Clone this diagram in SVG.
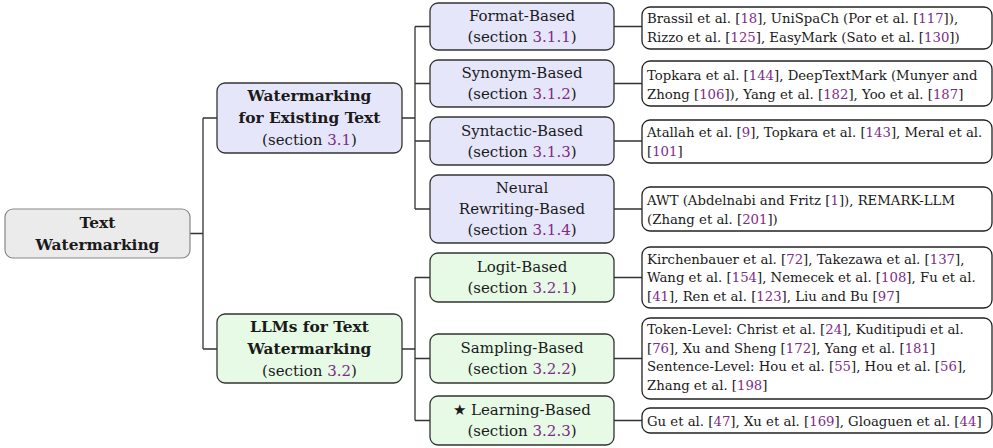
<svg xmlns="http://www.w3.org/2000/svg" width="993" height="448" viewBox="0 0 993 448">
<style>
text{font-family:'DejaVu Serif',serif;fill:#1a1a1a}
.n{font-size:15px;text-anchor:middle}
.b{font-weight:bold;font-size:15.4px}
.t{font-size:13.25px}
.c{fill:#7E2C86}
.root{fill:#EBEBEB;stroke:#888;stroke-width:1.2}
.blue{fill:#E6E6FA;stroke:#333;stroke-width:1.3}
.green{fill:#E6FAE6;stroke:#333;stroke-width:1.3}
.box{fill:#fff;stroke:#222;stroke-width:1.3}
.ln{fill:none;stroke:#333;stroke-width:1.3}
</style>
<g id="connectors">
<path class="ln" d="M190,233.5H203M203,118V349M203,118H217M203,349H217"/>
<path class="ln" d="M402,118H415M415,26.5V209M415,26.5H430M415,83.5H430M415,141H430M415,209H430"/>
<path class="ln" d="M402,349H415M415,277.5V420.5M415,277.5H430M415,358.5H430M415,420.5H430"/>
<path class="ln" d="M614,26.5H642M614,83.5H642M614,141H642M614,209H642M614,277.5H642M614,358.5H642M614,420.5H642"/>
</g>
<g id="root">
<rect class="root" x="5" y="209" width="185" height="49" rx="8"/>
<text class="n b" x="97.5" y="227.5">Text</text>
<text class="n b" x="97.5" y="249.5">Watermarking</text>
</g>
<g id="existing">
<rect class="blue" x="217" y="83" width="185" height="70" rx="8"/>
<text class="n b" x="309.5" y="101">Watermarking</text>
<text class="n b" x="309.5" y="123">for Existing Text</text>
<text class="n" x="309.5" y="145">(section <tspan class="c">3.1</tspan>)</text>
</g>
<g id="llms">
<rect class="green" x="217" y="314" width="185" height="69" rx="8"/>
<text class="n b" x="309.5" y="332">LLMs for Text</text>
<text class="n b" x="309.5" y="354">Watermarking</text>
<text class="n" x="309.5" y="376">(section <tspan class="c">3.2</tspan>)</text>
</g>
<g id="format">
<rect class="blue" x="430" y="3" width="184" height="47" rx="8"/>
<text class="n" x="522" y="21">Format-Based</text>
<text class="n" x="522" y="42">(section <tspan class="c">3.1.1</tspan>)</text>
</g>
<g id="synonym">
<rect class="blue" x="430" y="60" width="184" height="47" rx="8"/>
<text class="n" x="522" y="78">Synonym-Based</text>
<text class="n" x="522" y="99">(section <tspan class="c">3.1.2</tspan>)</text>
</g>
<g id="syntactic">
<rect class="blue" x="430" y="117" width="184" height="48" rx="8"/>
<text class="n" x="522" y="135.5">Syntactic-Based</text>
<text class="n" x="522" y="156.5">(section <tspan class="c">3.1.3</tspan>)</text>
</g>
<g id="neural">
<rect class="blue" x="430" y="175" width="184" height="68" rx="8"/>
<text class="n" x="522" y="192.5">Neural</text>
<text class="n" x="522" y="213.5">Rewriting-Based</text>
<text class="n" x="522" y="234.5">(section <tspan class="c">3.1.4</tspan>)</text>
</g>
<g id="logit">
<rect class="green" x="430" y="253" width="184" height="49" rx="8"/>
<text class="n" x="522" y="272">Logit-Based</text>
<text class="n" x="522" y="293">(section <tspan class="c">3.2.1</tspan>)</text>
</g>
<g id="sampling">
<rect class="green" x="430" y="334" width="184" height="49" rx="8"/>
<text class="n" x="522" y="353">Sampling-Based</text>
<text class="n" x="522" y="374">(section <tspan class="c">3.2.2</tspan>)</text>
</g>
<g id="learning">
<rect class="green" x="430" y="396" width="184" height="49" rx="8"/>
<text class="n" x="522" y="415">★ Learning-Based</text>
<text class="n" x="522" y="436">(section <tspan class="c">3.2.3</tspan>)</text>
</g>
<g id="refs-format">
<rect class="box" x="642" y="7" width="350" height="42" rx="8"/>
<text class="t" x="647" y="23">Brassil et al. [<tspan class="c">18</tspan>], UniSpaCh (Por et al. [<tspan class="c">117</tspan>]),</text>
<text class="t" x="647" y="42">Rizzo et al. [<tspan class="c">125</tspan>], EasyMark (Sato et al. [<tspan class="c">130</tspan>])</text>
</g>
<g id="refs-synonym">
<rect class="box" x="642" y="61" width="350" height="45" rx="8"/>
<text class="t" x="647" y="80">Topkara et al. [<tspan class="c">144</tspan>], DeepTextMark (Munyer and</text>
<text class="t" x="647" y="99">Zhong [<tspan class="c">106</tspan>]), Yang et al. [<tspan class="c">182</tspan>], Yoo et al. [<tspan class="c">187</tspan>]</text>
</g>
<g id="refs-syntactic">
<rect class="box" x="642" y="120" width="350" height="43" rx="8"/>
<text class="t" x="647" y="137">Atallah et al. [<tspan class="c">9</tspan>], Topkara et al. [<tspan class="c">143</tspan>], Meral et al.</text>
<text class="t" x="647" y="156">[<tspan class="c">101</tspan>]</text>
</g>
<g id="refs-neural">
<rect class="box" x="642" y="187" width="350" height="44" rx="8"/>
<text class="t" x="647" y="204.5">AWT (Abdelnabi and Fritz [<tspan class="c">1</tspan>]), REMARK-LLM</text>
<text class="t" x="647" y="223.5">(Zhang et al. [<tspan class="c">201</tspan>])</text>
</g>
<g id="refs-logit">
<rect class="box" x="642" y="247" width="350" height="61" rx="8"/>
<text class="t" x="647" y="263.5">Kirchenbauer et al. [<tspan class="c">72</tspan>], Takezawa et al. [<tspan class="c">137</tspan>],</text>
<text class="t" x="647" y="282">Wang et al. [<tspan class="c">154</tspan>], Nemecek et al. [<tspan class="c">108</tspan>], Fu et al.</text>
<text class="t" x="647" y="300.5">[<tspan class="c">41</tspan>], Ren et al. [<tspan class="c">123</tspan>], Liu and Bu [<tspan class="c">97</tspan>]</text>
</g>
<g id="refs-sampling">
<rect class="box" x="642" y="318" width="350" height="81" rx="8"/>
<text class="t" x="647" y="334">Token-Level: Christ et al. [<tspan class="c">24</tspan>], Kuditipudi et al.</text>
<text class="t" x="647" y="352.5">[<tspan class="c">76</tspan>], Xu and Sheng [<tspan class="c">172</tspan>], Yang et al. [<tspan class="c">181</tspan>]</text>
<text class="t" x="647" y="371">Sentence-Level: Hou et al. [<tspan class="c">55</tspan>], Hou et al. [<tspan class="c">56</tspan>],</text>
<text class="t" x="647" y="389.5">Zhang et al. [<tspan class="c">198</tspan>]</text>
</g>
<g id="refs-learning">
<rect class="box" x="642" y="408" width="350" height="25" rx="8"/>
<text class="t" x="647" y="425.5">Gu et al. [<tspan class="c">47</tspan>], Xu et al. [<tspan class="c">169</tspan>], Gloaguen et al. [<tspan class="c">44</tspan>]</text>
</g>
</svg>
